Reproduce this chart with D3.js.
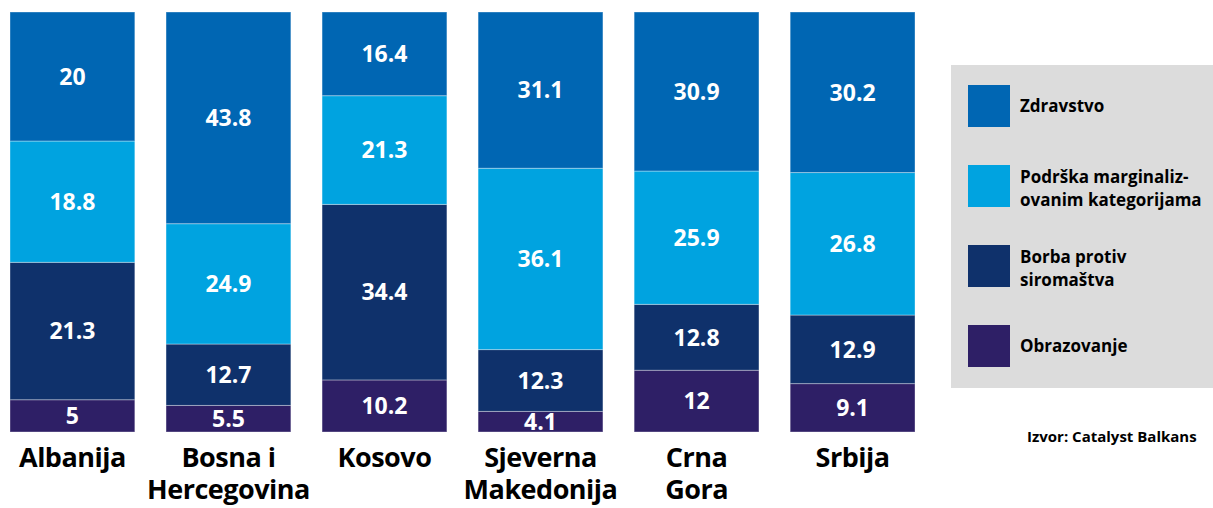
<!DOCTYPE html>
<html>
<head>
<meta charset="utf-8">
<script src="https://cdn.jsdelivr.net/npm/d3@7"></script>
<style>
  body { margin: 0; background: #fff; }
  svg { display: block; font-family: "Open Sans", "Lato", sans-serif; }
</style>
</head>
<body>
<svg id="chart" width="1213" height="508"></svg>
<script>
// data
const countries = ["Albanija", "Bosna i Hercegovina", "Kosovo", "Sjeverna Makedonija", "Crna Gora", "Srbija"];
const countryLines = [["Albanija"], ["Bosna i", "Hercegovina"], ["Kosovo"], ["Sjeverna", "Makedonija"], ["Crna", "Gora"], ["Srbija"]];
const series = ["Zdravstvo", "Podrška marginalizovanim kategorijama", "Borba protiv siromaštva", "Obrazovanje"];
const legendLines = [["Zdravstvo"], ["Podrška marginaliz-", "ovanim kategorijama"], ["Borba protiv", "siromaštva"], ["Obrazovanje"]];
const zdravstvo = [20, 43.8, 16.4, 31.1, 30.9, 30.2];
const podrska = [18.8, 24.9, 21.3, 36.1, 25.9, 26.8];
const borba = [21.3, 12.7, 34.4, 12.3, 12.8, 12.9];
const obrazovanje = [5, 5.5, 10.2, 4.1, 12, 9.1];
const colors = ["#0066b3", "#00a3e0", "#0f316b", "#2e1f66"];

const rows = countries.map((c, i) => ({
  country: c,
  [series[0]]: zdravstvo[i],
  [series[1]]: podrska[i],
  [series[2]]: borba[i],
  [series[3]]: obrazovanje[i],
}));

const svg = d3.select("#chart");
const plotTop = 12, plotBottom = 432;

const x = d3.scaleBand().domain(countries).range([10, 915]).paddingInner(0.2).paddingOuter(0);
const y = d3.scaleLinear().domain([0, 1]).range([plotBottom, plotTop]);
const color = d3.scaleOrdinal().domain(series).range(colors);

// Zdravstvo sits on top, so stack in reverse order
const stack = d3.stack().keys(series.slice().reverse()).offset(d3.stackOffsetExpand);
const stacked = stack(rows);

const layers = svg.append("g")
  .selectAll("g")
  .data(stacked)
  .join("g")
  .attr("fill", (d) => color(d.key));

layers.selectAll("rect")
  .data((d) => d)
  .join("rect")
  .attr("x", (d) => x(d.data.country))
  .attr("y", (d) => y(d[1]))
  .attr("width", x.bandwidth())
  .attr("height", (d) => y(d[0]) - y(d[1]))
  .attr("stroke", "#ffffff")
  .attr("stroke-opacity", 0.35)
  .attr("stroke-width", 1);

layers.selectAll("text")
  .data((d) => d.map((v) => ({ v, key: d.key })))
  .join("text")
  .attr("x", (d) => x(d.v.data.country) + x.bandwidth() / 2)
  .attr("y", (d) => (y(d.v[0]) + y(d.v[1])) / 2)
  .attr("dy", "0.36em")
  .attr("text-anchor", "middle")
  .attr("fill", "#fff")
  .style("font-size", "23px")
  .style("font-weight", 700)
  .text((d) => d.v.data[d.key]);

// country labels
svg.append("g")
  .selectAll("text")
  .data(countries)
  .join("text")
  .attr("x", (d) => x(d) + x.bandwidth() / 2)
  .attr("y", 467)
  .attr("text-anchor", "middle")
  .attr("fill", "#000")
  .style("font-size", "27px")
  .style("font-weight", 700)
  .style("letter-spacing", "-0.5px")
  .selectAll("tspan")
  .data((d, i) => countryLines[i])
  .join("tspan")
  .attr("x", function () { return d3.select(this.parentNode).attr("x"); })
  .attr("dy", (d, i) => (i === 0 ? 0 : 32))
  .text((d) => d);

// legend
const legend = svg.append("g");
legend.append("rect")
  .attr("x", 951).attr("y", 65)
  .attr("width", 270).attr("height", 323)
  .attr("fill", "#dcdcdc");

const items = legend.selectAll("g")
  .data(series)
  .join("g")
  .attr("transform", (d, i) => `translate(968,${85 + i * 80})`);

items.append("rect")
  .attr("width", 42).attr("height", 42)
  .attr("fill", (d) => color(d));

items.append("text")
  .attr("x", 52)
  .attr("y", (d, i) => (legendLines[i].length === 1 ? 27 : 18))
  .attr("fill", "#000")
  .style("font-size", "17px")
  .style("font-weight", 700)
  .selectAll("tspan")
  .data((d, i) => legendLines[i])
  .join("tspan")
  .attr("x", 52)
  .attr("dy", (d, i) => (i === 0 ? 0 : 23))
  .text((d) => d);

svg.append("text")
  .attr("x", 1027).attr("y", 442)
  .attr("fill", "#000")
  .style("font-size", "15px")
  .style("font-weight", 700)
  .text("Izvor: Catalyst Balkans");
</script>
</body>
</html>
